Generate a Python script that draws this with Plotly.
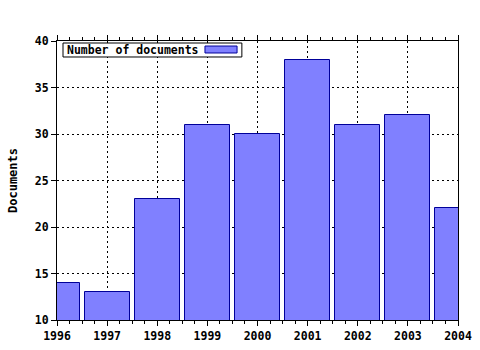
import plotly.graph_objects as go

years = [1996, 1997, 1998, 1999, 2000, 2001, 2002, 2003, 2004]
documents = [14, 13, 23, 31, 30, 38, 31, 32, 22]
series_name = "Number of documents"
y_title = "Documents"

FONT = "DejaVu Sans Mono"

fig = go.Figure()
fig.add_trace(go.Bar(
    x=years, y=documents, width=0.9, name=series_name,
    marker=dict(color="#8080ff", line=dict(color="#000099", width=1)),
    showlegend=False,
))

fig.update_layout(
    width=480, height=350,
    margin=dict(l=57, r=22, t=41, b=30),
    paper_bgcolor="white", plot_bgcolor="white",
    font=dict(family=FONT, size=11, color="black", weight="bold"),
    bargap=0,
)
fig.update_xaxes(
    range=[1996, 2004], tickmode="array", tickvals=years,
    ticktext=[str(y) for y in years],
    showline=True, linecolor="black", linewidth=1, mirror="ticks",
    ticks="outside", ticklen=5, tickcolor="black",
    minor=dict(dtick=0.25, tick0=1996, ticks="outside", ticklen=3, tickcolor="black", showgrid=False),
    showgrid=True, gridcolor="black", griddash="2px,3px", gridwidth=1,
    tickfont=dict(family=FONT, size=11.5, weight="bold"),
    zeroline=False, automargin=False,
)
fig.update_yaxes(
    range=[10, 40], dtick=5, tick0=10,
    showline=True, linecolor="black", linewidth=1, mirror=True,
    ticks="outside", ticklen=5, tickcolor="black",
    showgrid=True, gridcolor="black", griddash="2px,3px", gridwidth=1,
    tickfont=dict(family=FONT, size=11.5, weight="bold"),
    title=dict(text=y_title, font=dict(family=FONT, size=12, weight="bold"), standoff=14),
    zeroline=False, automargin=False,
)

# legend box (text first, swatch on right)
fig.add_shape(type="rect", xref="paper", yref="paper",
              x0=0.015, x1=0.461, y0=0.9427, y1=0.9928,
              line=dict(color="black", width=1), fillcolor="white", layer="above")
fig.add_shape(type="rect", xref="paper", yref="paper",
              x0=0.369, x1=0.449, y0=0.957, y1=0.982,
              line=dict(color="#000099", width=1), fillcolor="#8080ff", layer="above")
fig.add_annotation(text=series_name, xref="paper", yref="paper",
                   x=0.02, y=0.968, xanchor="left", yanchor="middle", showarrow=False,
                   font=dict(family=FONT, size=11.5, weight="bold", color="black"))

fig.write_html("out.html")
